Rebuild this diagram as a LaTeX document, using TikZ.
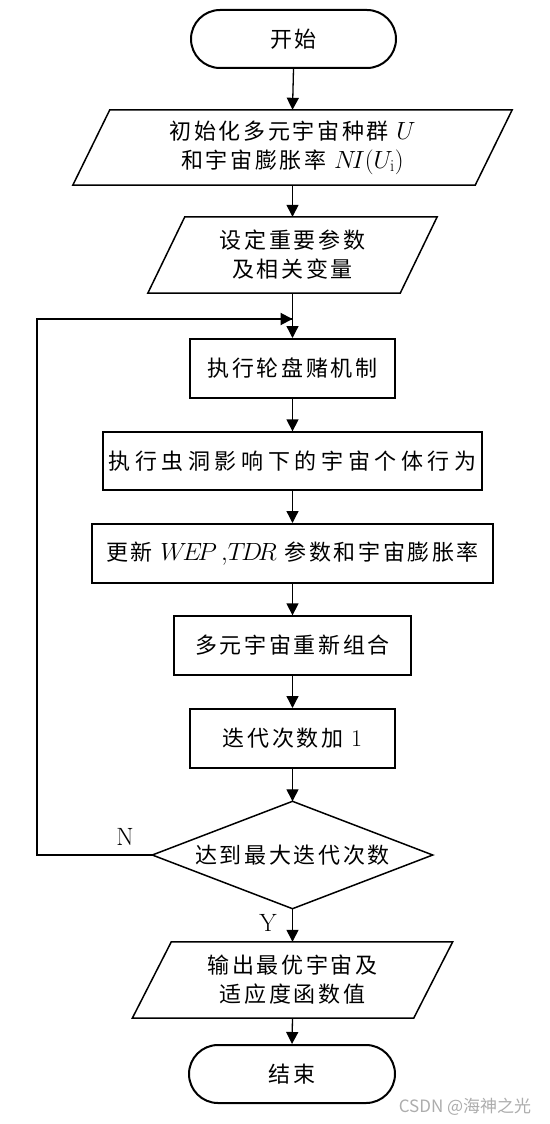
\documentclass[tikz,border=0pt]{standalone}
\usepackage{fontspec}
\usetikzlibrary{arrows.meta}
\newfontfamily\cjk[LetterSpace=12]{Noto Sans CJK SC}
\newfontfamily\cjkwide[LetterSpace=21]{Noto Sans CJK SC}
\newfontfamily\wmfont{Noto Sans CJK SC}
\newcommand\lmath[1]{{\fontsize{24}{29}\selectfont$#1$}}
\begin{document}
\begin{tikzpicture}[x=1pt,y=-1pt,
  txt/.style={font=\fontsize{22}{29}\selectfont\cjk, align=center, inner sep=0pt},
  box/.style={txt, draw, line width=#1, minimum height=59pt},
  box/.default=2pt,
  term/.style={txt, draw, line width=2pt, minimum width=205pt, minimum height=58pt, rounded corners=29pt},
  para/.style={txt, minimum height=75pt},
  pline/.style={line width=1.5pt, line join=miter},
  conn/.style={line width=1.3pt, -{Triangle[length=12pt,width=12pt]}},
  loopline/.style={line width=2pt},
  lbl/.style={font=\fontsize{25}{25}\selectfont, inner sep=0pt}
]
\useasboundingbox[fill=white] (0,0) rectangle (549,1124);

% nodes
\node[term] (start) at (293.5,39) {开始};

\node[para, minimum width=402pt] (p1) at (292.5,147.5) {初始化多元宇宙种群 \lmath{U}\\和宇宙膨胀率 \lmath{N\!I(U_{\mathrm{i}})}};
\draw[pline] ([xshift=18.5pt]p1.north west) -- ([xshift=18.5pt]p1.north east) -- ([xshift=-18.5pt]p1.south east) -- ([xshift=-18.5pt]p1.south west) -- cycle;

\node[para, minimum width=252pt, minimum height=76pt] (p2) at (292.5,255) {设定重要参数\\及相关变量};
\draw[pline] ([xshift=18.5pt]p2.north west) -- ([xshift=18.5pt]p2.north east) -- ([xshift=-18.5pt]p2.south east) -- ([xshift=-18.5pt]p2.south west) -- cycle;

\node[box, minimum width=205pt] (r1) at (292.5,368.5) {执行轮盘赌机制};
\node[box=1.3pt, minimum width=379pt, minimum height=58pt, font=\fontsize{22}{29}\selectfont\cjkwide] (r2) at (292.5,461) {执行虫洞影响下的宇宙个体行为};
\node[box, minimum width=401pt] (r3) at (292.5,553.5) {更新 \lmath{W\!E\!P\,{,}T\!D\!R} 参数和宇宙膨胀率};
\node[box=1.3pt, minimum width=237pt] (r4) at (292.5,645.5) {多元宇宙重新组合};
\node[box, minimum width=205pt] (r5) at (292.5,738.5) {迭代次数加 {\rmfamily\fontsize{24}{29}\selectfont 1}};

\node[txt, minimum width=280pt, minimum height=107pt] (d) at (292.5,855) {达到最大迭代次数};
\draw[pline] (d.north) -- (d.east) -- (d.south) -- (d.west) -- cycle;

\node[para, minimum width=281pt, minimum height=76pt] (p3) at (292.5,980) {输出最优宇宙及\\适应度函数值};
\draw[pline] ([xshift=19.5pt]p3.north west) -- ([xshift=19.5pt]p3.north east) -- ([xshift=-19.5pt]p3.south east) -- ([xshift=-19.5pt]p3.south west) -- cycle;

\node[term, minimum width=206pt] (end) at (292,1074) {结束};

% labels
\node[lbl] (nlab) at (125,837) {N};
\node[lbl] (ylab) at (268,923) {Y};
\node[font=\fontsize{17}{17}\selectfont\wmfont, text=black!32, inner sep=0pt] (wm) at (465,1107) {CSDN @海神之光};

% connectors
\draw[conn] (start.south) -- (p1.north);
\draw[conn] (p1.south) -- (p2.north);
\draw[conn] (p2.south) -- (r1.north);
\draw[conn] (r1.south) -- (r2.north);
\draw[conn] (r2.south) -- (r3.north);
\draw[conn] (r3.south) -- (r4.north);
\draw[conn] (r4.south) -- (r5.north);
\draw[conn] (r5.south) -- (d.north);
\draw[conn] (d.south) -- (p3.north);
\draw[conn] (p3.south) -- (end.north);

\coordinate (lb) at (37,855);
\coordinate (lt) at (37,319);
\coordinate (jn) at (292.5,319);
\draw[loopline] (d.west) -- (lb) -- (lt) -- (jn);
\draw[conn, line width=2pt] (lt) -- (jn);
\end{tikzpicture}
\end{document}
